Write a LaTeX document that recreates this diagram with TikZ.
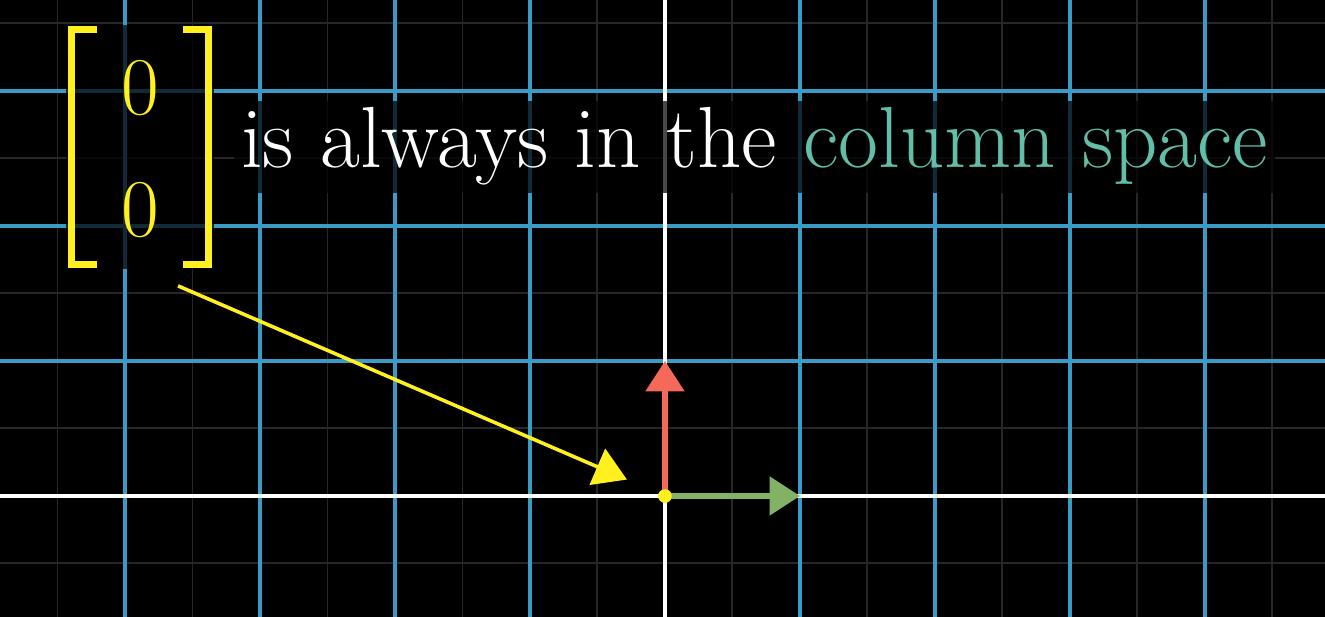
\documentclass[tikz,border=0pt]{standalone}
\usepackage{tikz}
\usepackage{xcolor}
\usetikzlibrary{arrows.meta, positioning}

\definecolor{gridblue}{HTML}{3A9CC6}
\definecolor{minorgray}{HTML}{272727}
\definecolor{vecred}{HTML}{F5695A}
\definecolor{vecgreen}{HTML}{83B165}
\definecolor{matyellow}{HTML}{FFF01E}
\definecolor{colteal}{HTML}{62BDA9}

\tikzset{
  minorline/.style={minorgray, line width=0.42pt},
  majorline/.style={gridblue, line width=0.84pt},
  axisline/.style={white, line width=0.9pt},
  basisvec/.style={line width=1.1pt, -{Triangle[length=6.4pt,width=8pt]}},
  pointer/.style={matyellow, line width=0.75pt, -{Triangle[length=6.8pt,width=8.2pt]}},
  bigtext/.style={font=\fontsize{18.3}{22}\selectfont, inner sep=1.5pt},
  shade/.style={fill=black, fill opacity=0.72}
}

\begin{document}
\begin{tikzpicture}
  \useasboundingbox (-4.926,-0.896) rectangle (4.889,3.674);
  \fill[black] (-4.926,-0.896) rectangle (4.889,3.674);
  % faint half-unit grid
  \foreach \x in {-4.5,-3.5,...,4.5}
    \draw[minorline] (\x,-0.896) -- (\x,3.674);
  \foreach \y in {-0.5,0.5,...,3.5}
    \draw[minorline] (-4.926,\y) -- (4.889,\y);
  % main grid
  \foreach \x in {-4,-3,-2,-1,1,2,3,4}
    \draw[majorline] (\x,-0.896) -- (\x,3.674);
  \foreach \y in {1,2,3}
    \draw[majorline] (-4.926,\y) -- (4.889,\y);
  % axes
  \draw[axisline] (-4.926,0) -- (4.889,0);
  \draw[axisline] (0,-0.896) -- (0,3.674);

  % zero vector as a column
  \fill[shade] (-4.44,1.68) rectangle (-3.34,3.49);
  \node[bigtext, matyellow, font=\fontsize{17.5}{20}\selectfont] (ztop) at (-3.889,3.022) {$0$};
  \node[bigtext, matyellow, font=\fontsize{17.5}{20}\selectfont] (zbot) at (-3.889,2.119) {$0$};
  \draw[matyellow, line width=1.45pt] (-4.207,3.454) -- (-4.398,3.454) -- (-4.398,1.717) -- (-4.207,1.717);
  \draw[matyellow, line width=1.45pt] (-3.570,3.454) -- (-3.379,3.454) -- (-3.379,1.717) -- (-3.570,1.717);

  % caption
  \node[bigtext, white, shade, text opacity=1, anchor=base west] (caption) at (-3.200,2.43)
    {is always in the \textcolor{colteal}{column space}};

  % basis vectors
  \node[circle, fill=matyellow, inner sep=0pt, minimum size=0.1cm] (orig) at (0,0) {};
  \coordinate (ihat) at (1,0);
  \coordinate (jhat) at (0,1);
  \coordinate (tailpt) at (-3.607,1.556);
  \draw[basisvec, vecred] (orig.center) -- (jhat);
  \draw[basisvec, vecgreen] (orig.center) -- (ihat);
  \node[circle, fill=matyellow, inner sep=0pt, minimum size=0.1cm] at (orig) {};
  \draw[pointer, shorten >=0.25cm] (tailpt) -- (orig);
\end{tikzpicture}
\end{document}
